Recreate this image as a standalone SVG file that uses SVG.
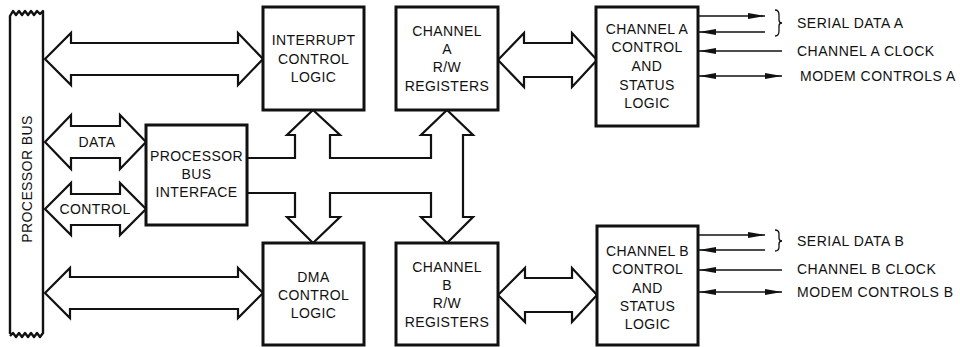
<svg xmlns="http://www.w3.org/2000/svg" width="960" height="347" viewBox="0 0 960 347">
<style>
.box{fill:#fff;stroke:#111;stroke-width:3}
.bus{fill:#fff;stroke:#111;stroke-width:2.2;stroke-linejoin:miter}
.ln{fill:none;stroke:#111;stroke-width:1.7}
.t{font-family:"Liberation Sans",Arial,sans-serif;font-size:14px;letter-spacing:0.4px;fill:#111;text-anchor:middle}
.l{font-family:"Liberation Sans",Arial,sans-serif;font-size:14px;letter-spacing:0.5px;fill:#111;text-anchor:start}
</style>
<defs>
<marker id="ah" markerUnits="userSpaceOnUse" markerWidth="18" markerHeight="8" refX="17" refY="3.5" orient="auto-start-reverse">
<path d="M0,0.5 L17,3.5 L0,6.5 Z" fill="#111"/>
</marker>
</defs>
<rect width="960" height="347" fill="#fff"/>

<g id="processor-bus">
<path class="ln" style="stroke-width:2.4;stroke-linejoin:round" d="M10,334 L10,16 L13,11 L16,15 L19,11 L22,15 L25,11 L28,15 L31,11 L34,15 L37,11 L40,14 L43,11 L43,333 L40,337 L37,333 L34,337 L31,333 L28,337 L25,333 L22,337 L19,333 L16,337 L13,333 L10,336"/>
<text class="t" transform="rotate(-90 27 179)" x="27" y="184">PROCESSOR BUS</text>
</g>

<g id="connectors">
<polygon class="bus" points="45,59 71,33 71,43 238,43 238,33 263,59 238,85 238,75 71,75 71,85"/>
<polygon class="bus" points="45,142 71,115 71,126 120,126 120,115 146,142 120,169 120,158 71,158 71,169"/>
<polygon class="bus" points="45,209 71,183 71,194 120,194 120,183 146,209 120,235 120,225 71,225 71,235"/>
<polygon class="bus" points="45,293 70,268 70,277 238,277 238,268 263,293 238,318 238,309 70,309 70,318"/>
<polygon class="bus" points="247,158 295,158 295,135 287,135 313,110 340,135 330,135 330,158 431,158 431,135 421,135 447,110 473,135 463,135 463,217 473,217 447,243 421,217 431,217 431,193 330,193 330,217 340,217 313,243 287,217 295,217 295,193 247,193"/>
<polygon class="bus" points="498,60 524,33 524,43 572,43 572,33 597,60 572,87 572,77 524,77 524,87"/>
<polygon class="bus" points="498,295 525,268 525,278 572,278 572,268 597,295 572,322 572,312 525,312 525,322"/>
<line class="ln" x1="698" y1="16" x2="765" y2="16" marker-end="url(#ah)"/>
<line class="ln" x1="765" y1="32" x2="699" y2="32" marker-end="url(#ah)"/>
<line class="ln" x1="782" y1="51" x2="699" y2="51" marker-end="url(#ah)"/>
<line class="ln" x1="699" y1="76" x2="782" y2="76" marker-start="url(#ah)" marker-end="url(#ah)"/>
<line class="ln" x1="698" y1="235" x2="765" y2="235" marker-end="url(#ah)"/>
<line class="ln" x1="765" y1="250" x2="699" y2="250" marker-end="url(#ah)"/>
<line class="ln" x1="782" y1="270" x2="699" y2="270" marker-end="url(#ah)"/>
<line class="ln" x1="699" y1="292" x2="782" y2="292" marker-start="url(#ah)" marker-end="url(#ah)"/>
<path class="ln" style="stroke-width:1.3" d="M775,10 Q779,10 779,15 L779,20 Q779,23 782,23 Q779,23 779,26 L779,31 Q779,36 775,36"/>
<path class="ln" style="stroke-width:1.3" d="M775,230 Q779,230 779,234 L779,238 Q779,241 782,241 Q779,241 779,244 L779,247 Q779,251 775,251"/>
</g>

<g id="pbi">
<rect class="box" x="146" y="125" width="101" height="100"/>
<text class="t" x="196.5" y="161">PROCESSOR</text>
<text class="t" x="196.5" y="179">BUS</text>
<text class="t" x="196.5" y="197">INTERFACE</text>
</g>
<g id="data-label"><text class="t" x="97" y="147">DATA</text></g>
<g id="control-label"><text class="t" x="95" y="214">CONTROL</text></g>

<g id="interrupt">
<rect class="box" x="263" y="7" width="101" height="103"/>
<text class="t" x="313.5" y="45">INTERRUPT</text>
<text class="t" x="313.5" y="64">CONTROL</text>
<text class="t" x="313.5" y="82">LOGIC</text>
</g>

<g id="dma">
<rect class="box" x="263" y="243" width="101" height="102"/>
<text class="t" x="313.5" y="282">DMA</text>
<text class="t" x="313.5" y="300">CONTROL</text>
<text class="t" x="313.5" y="318">LOGIC</text>
</g>

<g id="chA-rw">
<rect class="box" x="396" y="7" width="102" height="103"/>
<text class="t" x="447" y="36">CHANNEL</text>
<text class="t" x="447" y="54">A</text>
<text class="t" x="447" y="72">R/W</text>
<text class="t" x="447" y="91">REGISTERS</text>
</g>

<g id="chB-rw">
<rect class="box" x="396" y="243" width="102" height="102"/>
<text class="t" x="447" y="272">CHANNEL</text>
<text class="t" x="447" y="290">B</text>
<text class="t" x="447" y="308">R/W</text>
<text class="t" x="447" y="327">REGISTERS</text>
</g>

<g id="chA-ctl">
<rect class="box" x="596" y="7" width="102" height="119"/>
<text class="t" x="647" y="34">CHANNEL A</text>
<text class="t" x="647" y="52">CONTROL</text>
<text class="t" x="647" y="71">AND</text>
<text class="t" x="647" y="90">STATUS</text>
<text class="t" x="647" y="108">LOGIC</text>
</g>

<g id="chB-ctl">
<rect class="box" x="597" y="226" width="101" height="119"/>
<text class="t" x="647.5" y="256">CHANNEL B</text>
<text class="t" x="647.5" y="274">CONTROL</text>
<text class="t" x="647.5" y="293">AND</text>
<text class="t" x="647.5" y="311">STATUS</text>
<text class="t" x="647.5" y="329">LOGIC</text>
</g>

<g id="signals-A">
<text class="l" x="797" y="28">SERIAL DATA A</text>
<text class="l" x="797" y="56">CHANNEL A CLOCK</text>
<text class="l" x="800" y="81">MODEM CONTROLS A</text>
</g>
<g id="signals-B">
<text class="l" x="797" y="246">SERIAL DATA B</text>
<text class="l" x="797" y="274">CHANNEL B CLOCK</text>
<text class="l" x="797" y="297">MODEM CONTROLS B</text>
</g>
</svg>
